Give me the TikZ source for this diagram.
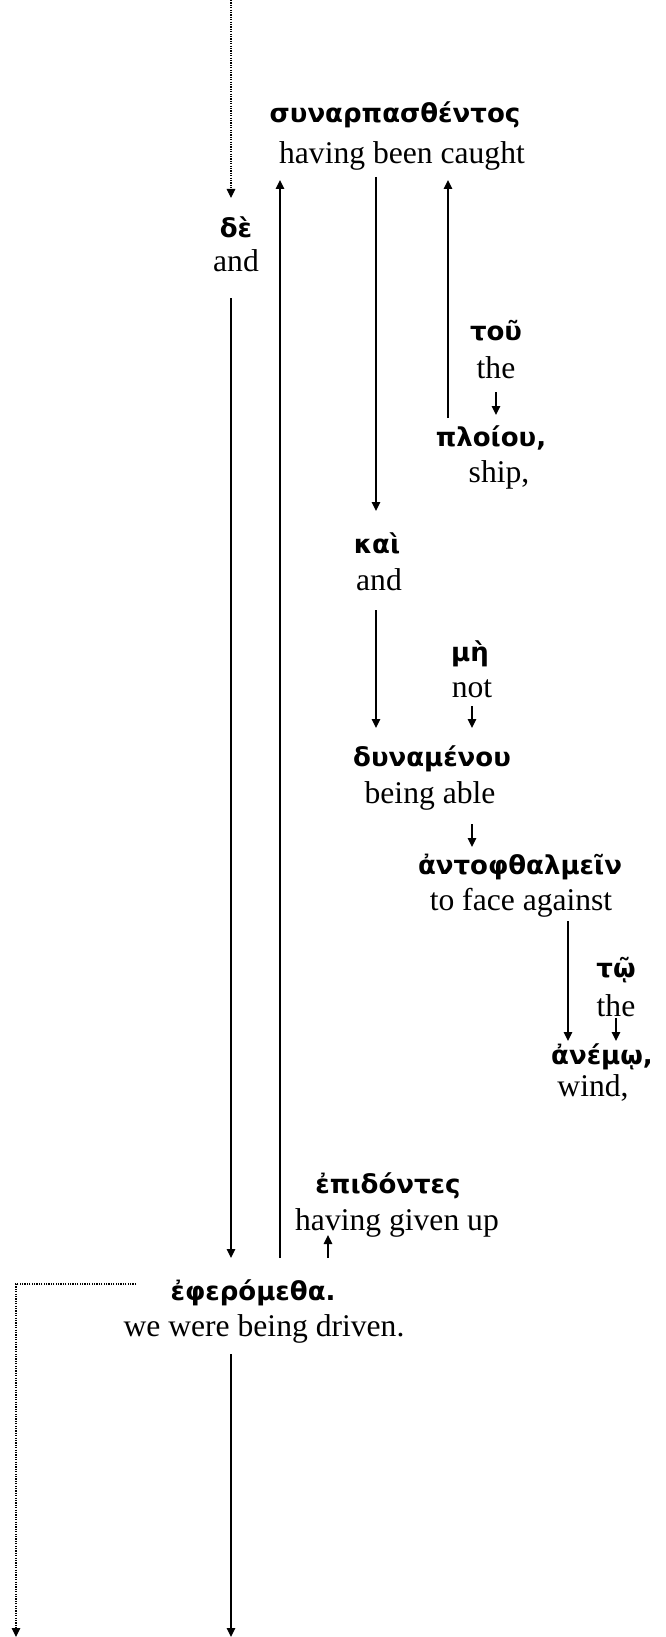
\documentclass[tikz,border=0pt]{standalone}
\usepackage{fontspec}
\setmainfont{Liberation Serif}
\newfontfamily\grk{DejaVu Sans}
\usetikzlibrary{arrows.meta}
\begin{document}
\begin{tikzpicture}[x=1pt,y=-1pt,
  gk/.style={font=\grk\bfseries\fontsize{26}{30}\selectfont, inner sep=0pt, anchor=base},
  en/.style={font=\fontsize{31.6}{36}\selectfont, inner sep=0pt, anchor=base},
  arr/.style={line width=1.4pt, -{Triangle[length=9pt,width=8.5pt]}},
  dotarr/.style={line width=1.2pt, dash pattern=on 1.2pt off 1.2pt, -{Triangle[length=9pt,width=8.5pt]}}]
\useasboundingbox (0,0) rectangle (666,1637);
% words
\node[gk] (synG) at (395,123) {συναρπασθέντος};
\node[en] (synE) at (402,164) {having been caught};
\node[gk] (deG) at (236,237) {δὲ};
\node[en] (deE) at (236,271) {and};
\node[gk] (touG) at (496,340) {τοῦ};
\node[en] (touE) at (496,378) {the};
\node[gk] (ploG) at (491,446) {πλοίου,};
\node[en] (ploE) at (499,482) {ship,};
\node[gk] (kaiG) at (377,553) {καὶ};
\node[en] (kaiE) at (379,590) {and};
\node[gk] (meG) at (470,661) {μὴ};
\node[en] (meE) at (472,697) {not};
\node[gk] (dynG) at (432,766) {δυναμένου};
\node[en] (dynE) at (430,803) {being able};
\node[gk] (antG) at (520,874) {ἀντοφθαλμεῖν};
\node[en] (antE) at (521,910) {to face against};
\node[gk] (toG) at (616,977) {τῷ};
\node[en] (toE) at (616,1016) {the};
\node[gk] (aneG) at (602,1064) {ἀνέμῳ,};
\node[en] (aneE) at (593,1096) {wind,};
\node[gk] (epiG) at (388,1193) {ἐπιδόντες};
\node[en] (epiE) at (397,1230) {having given up};
\node[gk] (ephG) at (253,1300) {ἐφερόμεθα.};
\node[en] (ephE) at (264,1336) {we were being driven.};
% connector end points
\coordinate (topIn) at (231,0);
\coordinate (deTop) at (231,198);
\coordinate (deBot) at (231,298);
\coordinate (ephTopA) at (231,1258);
\coordinate (ephTopB) at (280,1258);
\coordinate (synBotA) at (280,180);
\coordinate (synBotB) at (376,177);
\coordinate (kaiTop) at (376,511);
\coordinate (ploTop) at (448,418);
\coordinate (synBotC) at (448,180);
\coordinate (touBot) at (496,392);
\coordinate (ploTopB) at (496,415);
\coordinate (kaiBot) at (376,610);
\coordinate (dynTopA) at (376,728);
\coordinate (meBot) at (472,706);
\coordinate (dynTopB) at (472,728);
\coordinate (dynBot) at (472,824);
\coordinate (antTop) at (472,847);
\coordinate (antBot) at (568,921);
\coordinate (aneTopA) at (568,1041);
\coordinate (toBot) at (616,1018);
\coordinate (aneTopB) at (616,1041);
\coordinate (ephTopC) at (328,1258);
\coordinate (epiBot) at (328,1235);
\coordinate (ephLeft) at (136,1284);
\coordinate (corner) at (16,1284);
\coordinate (outL) at (16,1637);
\coordinate (ephBot) at (231,1354);
\coordinate (outM) at (231,1637);
% connectors
\draw[dotarr] (topIn) -- (deTop);
\draw[arr] (deBot) -- (ephTopA);
\draw[arr] (ephTopB) -- (synBotA);
\draw[arr] (synBotB) -- (kaiTop);
\draw[arr] (ploTop) -- (synBotC);
\draw[arr] (touBot) -- (ploTopB);
\draw[arr] (kaiBot) -- (dynTopA);
\draw[arr] (meBot) -- (dynTopB);
\draw[arr] (dynBot) -- (antTop);
\draw[arr] (antBot) -- (aneTopA);
\draw[arr] (toBot) -- (aneTopB);
\draw[arr] (ephTopC) -- (epiBot);
\draw[dotarr] (ephLeft) -- (corner) -- (outL);
\draw[arr] (ephBot) -- (outM);
\end{tikzpicture}
\end{document}
